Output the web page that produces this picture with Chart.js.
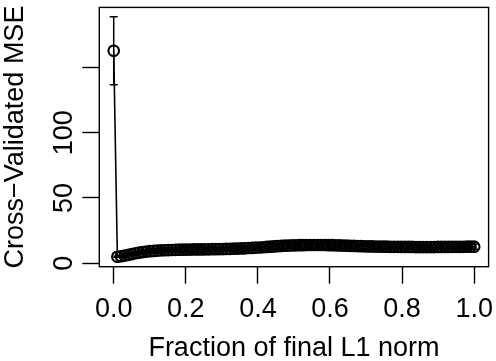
<!DOCTYPE html>
<html>
<head>
<meta charset="utf-8">
<script src="https://cdn.jsdelivr.net/npm/chart.js@4.4.1/dist/chart.umd.min.js"></script>
<style>
html,body{margin:0;padding:0;background:#fff;}
#wrap{width:496px;height:361px;position:relative;}
</style>
</head>
<body>
<div id="wrap"><canvas id="c"></canvas></div>
<script>
// Fraction of final L1 norm (x)
const fraction = [0, 0.0101, 0.0202, 0.0303, 0.0404, 0.0505, 0.0606, 0.0707, 0.0808, 0.0909,
  0.1010, 0.1111, 0.1212, 0.1313, 0.1414, 0.1515, 0.1616, 0.1717, 0.1818, 0.1919,
  0.2020, 0.2121, 0.2222, 0.2323, 0.2424, 0.2525, 0.2626, 0.2727, 0.2828, 0.2929,
  0.3030, 0.3131, 0.3232, 0.3333, 0.3434, 0.3535, 0.3636, 0.3737, 0.3838, 0.3939,
  0.4040, 0.4141, 0.4242, 0.4343, 0.4444, 0.4545, 0.4646, 0.4747, 0.4848, 0.4949,
  0.5051, 0.5152, 0.5253, 0.5354, 0.5455, 0.5556, 0.5657, 0.5758, 0.5859, 0.5960,
  0.6061, 0.6162, 0.6263, 0.6364, 0.6465, 0.6566, 0.6667, 0.6768, 0.6869, 0.6970,
  0.7071, 0.7172, 0.7273, 0.7374, 0.7475, 0.7576, 0.7677, 0.7778, 0.7879, 0.7980,
  0.8081, 0.8182, 0.8283, 0.8384, 0.8485, 0.8586, 0.8687, 0.8788, 0.8889, 0.8990,
  0.9091, 0.9192, 0.9293, 0.9394, 0.9495, 0.9596, 0.9697, 0.9798, 0.9899, 1];
// Cross-validated MSE
const cvMSE = [162.7, 5.0, 5.4, 5.9, 6.5, 7.1, 7.7, 8.2, 8.6, 9.0,
  9.3, 9.5, 9.7, 9.9, 10.0, 10.1, 10.2, 10.3, 10.4, 10.4,
  10.5, 10.5, 10.6, 10.6, 10.6, 10.7, 10.7, 10.8, 10.8, 10.9,
  10.9, 11.0, 11.1, 11.2, 11.3, 11.4, 11.5, 11.7, 11.8, 12.0,
  12.1, 12.3, 12.5, 12.7, 12.9, 13.1, 13.3, 13.5, 13.6, 13.7,
  13.8, 13.9, 13.9, 14.0, 14.0, 14.0, 14.0, 14.0, 14.0, 13.9,
  13.9, 13.8, 13.7, 13.6, 13.5, 13.4, 13.3, 13.2, 13.1, 13.0,
  12.9, 12.9, 12.8, 12.8, 12.7, 12.7, 12.6, 12.6, 12.6, 12.5,
  12.5, 12.5, 12.5, 12.4, 12.4, 12.4, 12.4, 12.4, 12.4, 12.5,
  12.5, 12.5, 12.5, 12.6, 12.6, 12.6, 12.6, 12.7, 12.7, 12.7];
// Standard error of the CV estimate
const cvError = [26.0, 0.4, 0.6, 0.8, 1.0, 1.1, 1.2, 1.3, 1.4, 1.4,
  1.5, 1.5, 1.5, 1.6, 1.6, 1.6, 1.6, 1.6, 1.7, 1.7,
  1.7, 1.7, 1.7, 1.7, 1.7, 1.7, 1.8, 1.8, 1.8, 1.8,
  1.8, 1.8, 1.8, 1.8, 1.9, 1.9, 1.9, 1.9, 1.9, 1.9,
  2.0, 2.0, 2.0, 2.0, 2.1, 2.1, 2.1, 2.1, 2.2, 2.2,
  2.2, 2.2, 2.2, 2.2, 2.2, 2.2, 2.2, 2.2, 2.2, 2.2,
  2.2, 2.2, 2.1, 2.1, 2.1, 2.1, 2.1, 2.0, 2.0, 2.0,
  2.0, 2.0, 2.0, 2.0, 2.0, 2.0, 2.0, 2.0, 2.0, 2.0,
  2.0, 2.0, 2.0, 2.0, 2.0, 2.0, 2.0, 2.0, 2.0, 2.0,
  2.0, 2.0, 2.0, 2.0, 2.0, 2.0, 2.0, 2.0, 2.0, 2.0];
const xTicks = [0, 0.2, 0.4, 0.6, 0.8, 1.0];
const xTickLabels = ['0.0', '0.2', '0.4', '0.6', '0.8', '1.0'];
const yTicks = [0, 50, 100, 150];
const yTickLabels = ['0', '50', '100', ''];

const FONT = 'Liberation Sans, Arial, Helvetica, sans-serif';

const errorBars = {
  id: 'errorBars',
  afterDatasetsDraw(chart) {
    const ctx = chart.ctx, xs = chart.scales.x, ys = chart.scales.y;
    ctx.save();
    ctx.strokeStyle = '#000';
    ctx.lineWidth = 1.5;
    for (let i = 0; i < fraction.length; i++) {
      const px = xs.getPixelForValue(fraction[i]);
      const top = ys.getPixelForValue(cvMSE[i] + cvError[i]);
      const bot = ys.getPixelForValue(cvMSE[i] - cvError[i]);
      ctx.beginPath();
      ctx.moveTo(px, top); ctx.lineTo(px, bot);
      ctx.moveTo(px - 4, top); ctx.lineTo(px + 4, top);
      ctx.moveTo(px - 4, bot); ctx.lineTo(px + 4, bot);
      ctx.stroke();
    }
    ctx.restore();
  }
};
const frameBox = {
  id: 'frameBox',
  afterDraw(chart) {
    const a = chart.chartArea, ctx = chart.ctx;
    ctx.save();
    ctx.strokeStyle = '#000';
    ctx.lineWidth = 1.4;
    ctx.strokeRect(a.left, a.top, a.right - a.left, a.bottom - a.top);
    ctx.restore();
  }
};

new Chart(document.getElementById('c'), {
  type: 'scatter',
  data: {
    datasets: [{
      data: fraction.map((f, i) => ({x: f, y: cvMSE[i]})),
      showLine: true,
      borderColor: '#000',
      borderWidth: 1.6,
      pointStyle: 'circle',
      pointRadius: 5.3,
      pointBorderWidth: 2.1,
      pointBackgroundColor: 'rgba(0,0,0,0)',
      pointBorderColor: '#000',
      tension: 0
    }]
  },
  options: {
    responsive: true,
    maintainAspectRatio: false,
    animation: false,
    events: [],
    layout: {padding: {top: 7.3, right: 5.5, bottom: 0, left: 0}},
    plugins: {legend: {display: false}, tooltip: {enabled: false}},
    scales: {
      x: {
        type: 'linear', position: 'bottom',
        min: -0.04, max: 1.04,
        afterBuildTicks: s => { s.ticks = xTicks.map(v => ({value: v})); },
        afterFit: s => { s.height = 94.3; s.paddingLeft = 0; s.paddingRight = 0; },
        ticks: {
          autoSkip: false, maxRotation: 0, minRotation: 0,
          color: '#000', padding: 12.5,
          font: {family: FONT, size: 27, lineHeight: 1},
          callback: (v, i) => xTickLabels[i]
        },
        grid: {display: true, drawOnChartArea: false, drawTicks: true, tickLength: 17,
               tickColor: '#000', tickWidth: 1.4, color: '#000'},
        border: {display: false},
        title: {display: true, text: 'Fraction of final L1 norm', color: '#000',
                font: {family: FONT, size: 27, lineHeight: 1}, padding: {top: 0, bottom: -0.8}}
      },
      y: {
        type: 'linear', position: 'left',
        min: -2.6, max: 195.9,
        afterBuildTicks: s => { s.ticks = yTicks.map(v => ({value: v})); },
        afterFit: s => { s.width = 99.3; s.paddingTop = 0; s.paddingBottom = 0; },
        ticks: {
          autoSkip: false, minRotation: 90, maxRotation: 90,
          crossAlign: 'center', align: 'start',
          color: '#000', padding: 9,
          font: {family: FONT, size: 27, lineHeight: 1},
          callback: (v, i) => yTickLabels[i]
        },
        grid: {display: true, drawOnChartArea: false, drawTicks: true, tickLength: 17,
               tickColor: '#000', tickWidth: 1.4, color: '#000'},
        border: {display: false},
        title: {display: true, text: 'Cross\u2212Validated MSE', color: '#000',
                font: {family: FONT, size: 27, lineHeight: 1}, padding: {top: 2.1, bottom: 0}}
      }
    }
  },
  plugins: [errorBars, frameBox]
});
</script>
</body>
</html>
